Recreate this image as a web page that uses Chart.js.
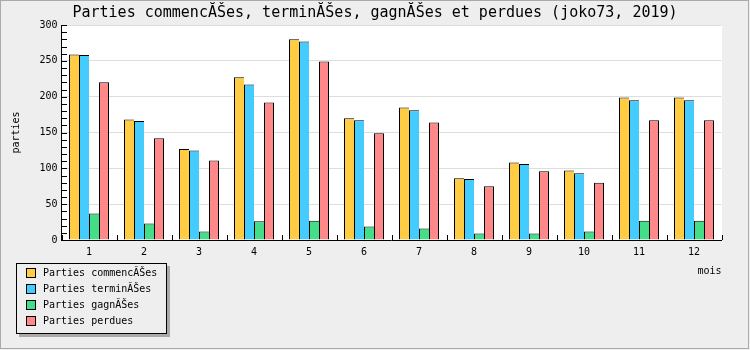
<!DOCTYPE html>
<html>
<head>
<meta charset="utf-8">
<script src="https://cdn.jsdelivr.net/npm/chart.js@4.4.1/dist/chart.umd.min.js"></script>
<style>
  body { margin: 0; background: #eeeeee; }
  canvas { display: block; }
</style>
</head>
<body>
<canvas id="chart" width="750" height="350"></canvas>
<script>
const months = ["1", "2", "3", "4", "5", "6", "7", "8", "9", "10", "11", "12"];
const started = [259, 168, 127, 227, 280, 170, 185, 86, 108, 97, 199, 199];
const finished = [258, 166, 125, 217, 277, 167, 181, 85, 106, 93, 195, 195];
const won = [37, 23, 12, 26, 27, 19, 16, 9, 9, 12, 27, 27];
const lost = [220, 142, 111, 192, 249, 149, 164, 75, 96, 80, 167, 167];

const titleText = "Parties commencĂŠes, terminĂŠes, gagnĂŠes et perdues (joko73, 2019)";
const labels = ["Parties commencĂŠes", "Parties terminĂŠes", "Parties gagnĂŠes", "Parties perdues"];
const colors = ["#ffcc44", "#44ccff", "#44dd88", "#ff8888"];

const mono = "'DejaVu Sans Mono', monospace";

// background, frame, inner ticks and the boxed legend
const decor = {
  id: "decor",
  beforeDraw(chart) {
    const ctx = chart.ctx;
    const a = chart.chartArea;
    ctx.save();
    ctx.fillStyle = "#eeeeee";
    ctx.fillRect(0, 0, chart.width, chart.height);
    ctx.fillStyle = "#ffffff";
    ctx.fillRect(Math.floor(a.left), a.top, Math.ceil(a.right) - Math.floor(a.left), a.bottom - a.top);
    ctx.restore();
  },
  afterDraw(chart) {
    const ctx = chart.ctx;
    const x = chart.scales.x;
    const y = chart.scales.y;
    const ax = Math.round(x.left);
    ctx.save();
    ctx.strokeStyle = "#000";
    ctx.lineWidth = 1;
    ctx.beginPath();
    for (let v = 0; v <= 300; v += 10) {
      const py = Math.round(y.getPixelForValue(v)) + 0.5;
      ctx.moveTo(ax, py);
      ctx.lineTo(ax + 5, py);
    }
    for (let i = 0; i <= months.length; i++) {
      const px = Math.round(x.getPixelForValue(i - 0.5)) + 0.5;
      ctx.moveTo(px, y.bottom);
      ctx.lineTo(px, y.bottom - 5);
    }
    ctx.stroke();

    // legend box
    const lx = 16, ly = 263, lw = 150, lh = 70;
    ctx.fillStyle = "#aaaaaa";
    ctx.fillRect(lx + 3, ly + 3, lw + 1, lh + 1);
    ctx.fillStyle = "#eeeeee";
    ctx.fillRect(lx, ly, lw, lh);
    ctx.strokeStyle = "#000";
    ctx.strokeRect(lx + 0.5, ly + 0.5, lw, lh);
    ctx.font = "10px " + mono;
    ctx.textBaseline = "middle";
    chart.data.datasets.forEach((ds, i) => {
      const cy = ly + 10 + i * 16;
      ctx.fillStyle = ds.backgroundColor;
      ctx.fillRect(lx + 10, cy - 5, 10, 10);
      ctx.strokeRect(lx + 10.5, cy - 4.5, 9, 9);
      ctx.fillStyle = "#000";
      ctx.fillText(ds.label, lx + 27, cy);
    });

    // outer frame
    ctx.strokeStyle = "#aaaaaa";
    ctx.strokeRect(0.5, 0.5, 748, 348);
    ctx.restore();
  }
};

const datasets = [started, finished, won, lost].map((vals, i) => ({
  label: labels[i],
  data: vals,
  backgroundColor: colors[i],
  borderColor: "#000",
  borderWidth: i === 3 ? { top: 1, left: 1, right: 1, bottom: 0 } : { top: 1, left: 1, right: 0, bottom: 0 },
  borderSkipped: "start",
  categoryPercentage: 40 / 55,
  barPercentage: 1.0
}));

new Chart(document.getElementById("chart"), {
  type: "bar",
  data: { labels: months, datasets: datasets },
  plugins: [decor],
  options: {
    responsive: false,
    animation: false,
    devicePixelRatio: 1,
    layout: { padding: { left: 0, right: 0, top: 0, bottom: 70 } },
    plugins: {
      legend: { display: false },
      tooltip: { enabled: false },
      title: {
        display: true,
        text: titleText,
        color: "#000",
        font: { family: mono, size: 15, weight: "normal" },
        padding: { top: 4, bottom: 3 }
      }
    },
    scales: {
      x: {
        grid: { display: false, drawTicks: false },
        border: { display: true, color: "#000", width: 1 },
        ticks: { color: "#000", font: { family: mono, size: 10 }, padding: 6, maxRotation: 0 },
        title: {
          display: true, text: "mois", align: "end", color: "#000",
          font: { family: mono, size: 10 }, padding: { top: 0, bottom: 3 }
        },
        afterFit(scale) { scale.height = 40; }
      },
      y: {
        min: 0,
        max: 300,
        ticks: { stepSize: 50, color: "#000", font: { family: mono, size: 10 }, padding: 4 },
        grid: { color: "#dddddd", drawTicks: false },
        border: { display: true, color: "#000", width: 1 },
        title: {
          display: true, text: "parties", color: "#000",
          font: { family: mono, size: 10 }, padding: { top: 10, bottom: 0 }
        },
        afterFit(scale) { scale.width = 61.5; }
      },
      y2: {
        position: "right",
        display: true,
        ticks: { display: false },
        grid: { display: false, drawTicks: false },
        border: { display: false },
        afterFit(scale) { scale.width = 28.5; }
      }
    }
  }
});
</script>
</body>
</html>
